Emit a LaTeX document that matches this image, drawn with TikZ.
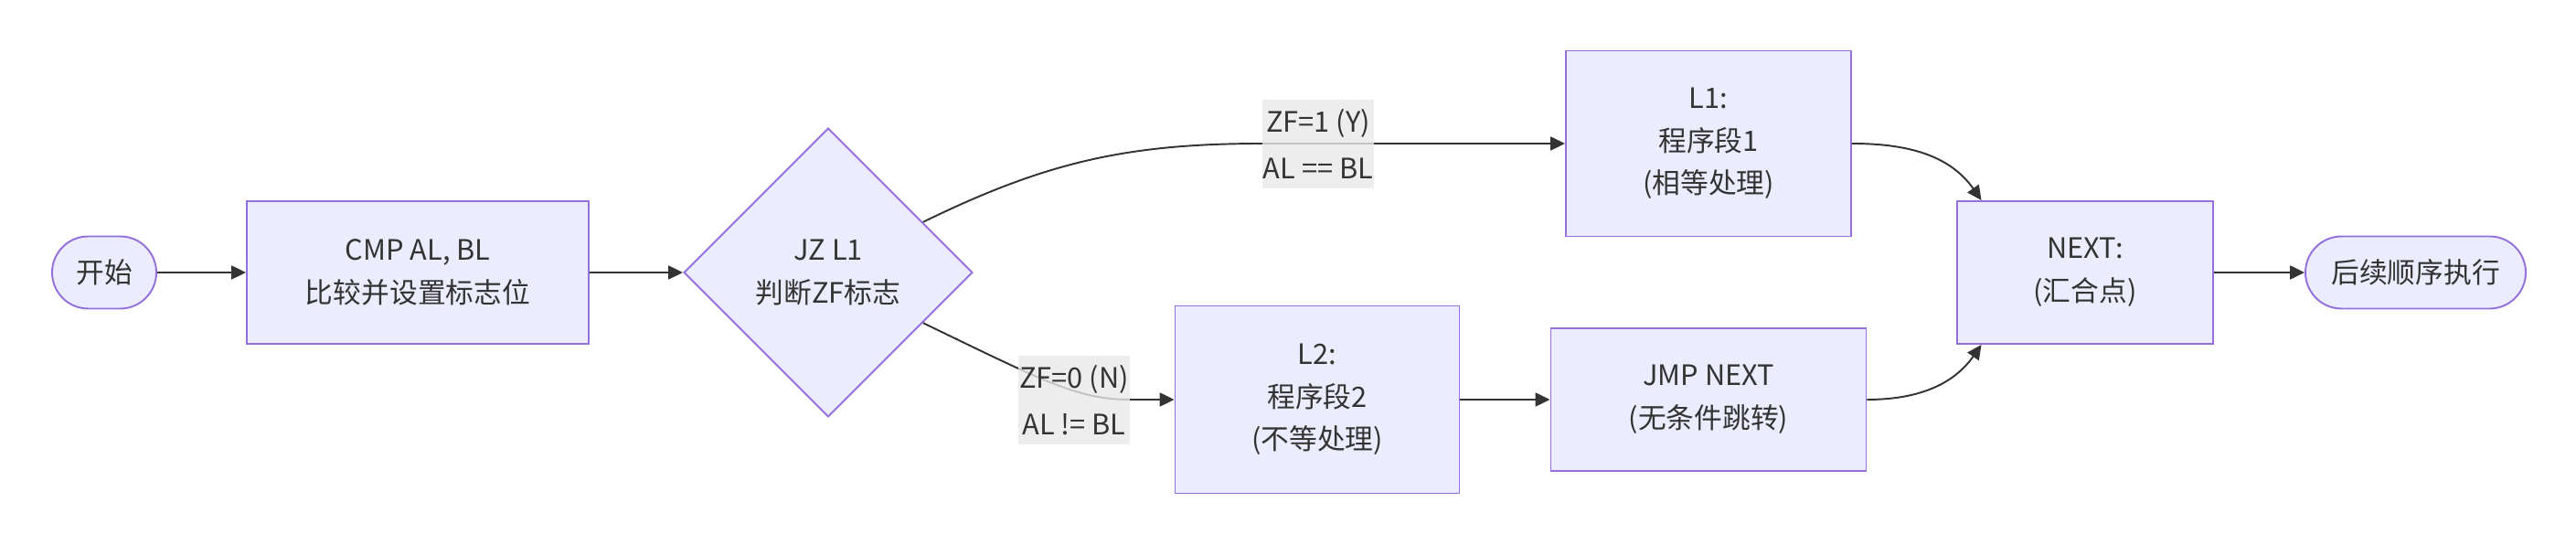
\documentclass[tikz,border=0pt]{standalone}
\usepackage{fontspec}
\setmainfont{Noto Sans CJK SC}
\usepackage{tikz}
\usetikzlibrary{arrows.meta,positioning,shapes.geometric}
\definecolor{NodeFill}{HTML}{ECECFF}
\definecolor{NodeLine}{HTML}{9370DB}
\definecolor{EdgeGray}{HTML}{333333}
\definecolor{LabelBg}{HTML}{E8E8E8}

\begin{document}
\begin{tikzpicture}[>={Stealth[length=9pt,width=8.5pt,inset=0pt]},
  font=\fontsize{17.5}{26.5}\selectfont, text=EdgeGray,
  box/.style={draw=NodeLine,fill=NodeFill,line width=1.1pt,align=center,
    inner sep=0pt,minimum height=3.12cm},
  term/.style={box,rounded corners=0.79cm,minimum height=1.58cm},
  decision/.style={box,diamond,aspect=1,minimum size=6.32cm},
  elabel/.style={fill=LabelBg,fill opacity=0.8,text opacity=1,align=center,
    inner sep=0pt,minimum width=2.44cm,minimum height=1.94cm,
    font=\fontsize{17.5}{29}\selectfont},
  link/.style={->,draw=EdgeGray,line width=1.1pt}]
\useasboundingbox (0,0) rectangle (56.36,11.92);

% main row
\node[term,minimum width=2.28cm] (start) at (2.28,5.96) {开始};
\node[box,minimum width=7.48cm] (cmp) at (9.14,5.96) {CMP AL, BL\\比较并设置标志位};
\node[decision] (jz) at (18.12,5.96) {JZ L1\\判断ZF标志};
\node[box,minimum width=5.6cm] (nxt) at (45.62,5.96) {NEXT:\\(汇合点)};
\node[term,minimum width=4.82cm] (done) at (52.85,5.96) {后续顺序执行};

% the two branches
\node[box,minimum width=6.24cm,minimum height=4.06cm] (L1) at (37.38,8.78) {L1:\\程序段1\\(相等处理)};
\node[box,minimum width=6.22cm,minimum height=4.10cm] (L2) at (28.82,3.18) {L2:\\程序段2\\(不等处理)};
\node[box,minimum width=6.9cm] (jmp) at (37.38,3.18) {JMP NEXT\\(无条件跳转)};

\coordinate (ybend) at (27.62,8.78);
\coordinate (nbend) at (24.73,3.18);

\draw[link] (start) -- (cmp);
\draw[link] (cmp) -- (jz);
\draw[link] (jz.28) to[out=26,in=180] (ybend) -- (L1);
\draw[link] (jz.-28) .. controls (22.9,3.55) and (23.6,3.18) .. (nbend) -- (L2);
\draw[link] (L2) -- (jmp);
\draw[link] (L1) to[out=0,in=125] ([xshift=0.55cm]nxt.north west);
\draw[link] (jmp) to[out=0,in=235] ([xshift=0.55cm]nxt.south west);
\draw[link] (nxt) -- (done);

\node[elabel] (ylab) at (28.84,8.77) {ZF=1 (Y)\\AL == BL};
\node[elabel] (nlab) at (23.50,3.16) {ZF=0 (N)\\AL != BL};
\end{tikzpicture}
\end{document}
